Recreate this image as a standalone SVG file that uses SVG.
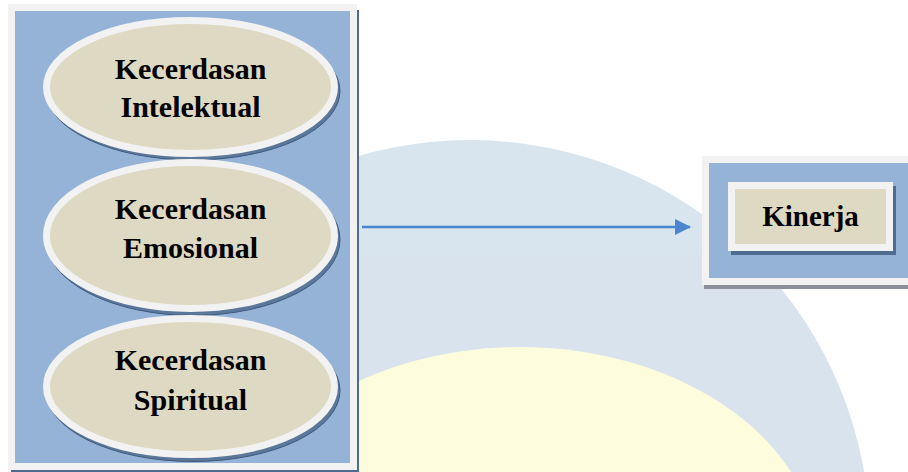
<svg xmlns="http://www.w3.org/2000/svg" width="908" height="472" viewBox="0 0 908 472">
<defs>
<style>
.lbl{font-family:'Liberation Serif','Times New Roman',serif;font-weight:700;font-size:30px;fill:#000;text-anchor:middle}
.frame{fill:#95B3D7;stroke:#F2F2F2;stroke-width:7}
.oval{fill:#DDD9C3;stroke:#F2F2F2;stroke-width:7}
.shadow{fill:#5B7799;stroke:#3F5A7E;stroke-width:1}
.edge{stroke:#4A86D0;stroke-width:2.5;fill:none}
</style>
<marker id="arrow" viewBox="0 0 16 16" refX="15" refY="8" markerWidth="16" markerHeight="16" markerUnits="userSpaceOnUse" orient="auto">
<path d="M0,0 L16,8 L0,16 Z" fill="#4A86D0"/>
</marker>
</defs>
<rect width="908" height="472" fill="#FFFFFF"/>
<g id="watermark" opacity="0.45">
<circle cx="470" cy="540" r="400" fill="#A9C3DA"/>
<ellipse cx="520" cy="565" rx="300" ry="218" fill="#FBFAB6"/>
</g>
<g id="node-left-group">
<rect x="11" y="10" width="348" height="462" fill="#4F6B8F"/>
<rect class="frame" x="11.5" y="7.5" width="342" height="459"/>
</g>
<g id="node-intelektual">
<ellipse class="shadow" cx="193" cy="91" rx="147" ry="69"/>
<ellipse class="oval" cx="190.5" cy="87" rx="144" ry="66.5"/>
<text class="lbl" x="190.5" y="79">Kecerdasan</text>
<text class="lbl" x="190.5" y="117">Intelektual</text>
</g>
<g id="node-emosional">
<ellipse class="shadow" cx="193" cy="239.5" rx="147" ry="76"/>
<ellipse class="oval" cx="190.5" cy="235.5" rx="144" ry="73"/>
<text class="lbl" x="190.5" y="219">Kecerdasan</text>
<text class="lbl" x="190.5" y="258">Emosional</text>
</g>
<g id="node-spiritual">
<ellipse class="shadow" cx="193" cy="390.5" rx="147" ry="71"/>
<ellipse class="oval" cx="190.5" cy="386.5" rx="144" ry="68"/>
<text class="lbl" x="190.5" y="370">Kecerdasan</text>
<text class="lbl" x="190.5" y="410">Spiritual</text>
</g>
<g id="node-kinerja">
<rect x="704" y="160" width="210" height="129" fill="#8C9098"/>
<rect class="frame" x="705.5" y="159.5" width="215" height="122"/>
<rect x="731" y="186" width="165" height="69" fill="#4F6B8F"/>
<rect class="frame" x="731.5" y="185.5" width="158" height="62" style="fill:#DDD9C3"/>
<text class="lbl" x="810.5" y="226" style="font-size:29px">Kinerja</text>
</g>
<g id="connectors">
<line class="edge" x1="362" y1="227" x2="690" y2="227" marker-end="url(#arrow)"/>
</g>
</svg>
